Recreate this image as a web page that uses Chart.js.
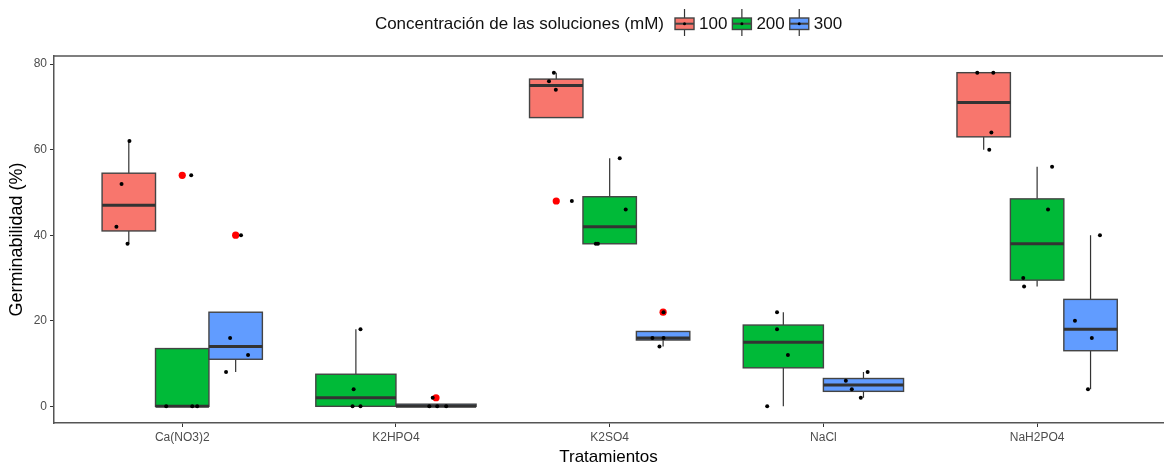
<!DOCTYPE html>
<html>
<head>
<meta charset="utf-8">
<script src="https://cdn.jsdelivr.net/npm/chart.js@4.4.0/dist/chart.umd.min.js"></script>
<style>
  html, body { margin: 0; padding: 0; background: #fff; }
</style>
</head>
<body>
<canvas id="chart" width="1167" height="468"></canvas>
<script>
const treatments = ['Ca(NO3)2', 'K2HPO4', 'K2SO4', 'NaCl', 'NaH2PO4'];
const concentrations = ['100', '200', '300'];
const colors = ['#F8766D', '#00BA38', '#619CFF'];
const yTicks = [0, 20, 40, 60, 80];

// germinabilidad (%) por tratamiento, una lista por concentracion (null = sin datos)
const germ100 = [[38, 42, 52, 62], null, [48, 74, 76, 78], null, [60, 64, 78, 78]];
const germ200 = [[0, 0, 0, 54], [0, 0, 4, 18], [38, 38, 46, 58], [0, 12, 18, 22], [28, 30, 46, 56]];
const germ300 = [[8, 12, 16, 40], [0, 0, 0, 2], [14, 16, 16, 22], [2, 4, 6, 8], [4, 16, 20, 40]];

// jitter horizontal de cada punto (en unidades de categoria)
const jitter100 = [[-0.256, -0.308, -0.284, -0.247], null, [-0.177, -0.252, -0.284, -0.261], null, [-0.224, -0.214, -0.280, -0.205]];
const jitter200 = [[-0.075, 0.047, 0.070, 0.042], [-0.203, -0.166, -0.198, -0.166], [-0.065, -0.055, 0.075, 0.047], [-0.263, -0.166, -0.217, -0.217], [-0.061, -0.065, 0.051, 0.070]];
const jitter300 = [[0.205, 0.308, 0.224, 0.275], [0.156, 0.193, 0.235, 0.172], [0.233, 0.200, 0.252, 0.252], [0.175, 0.133, 0.105, 0.207], [0.238, 0.256, 0.177, 0.294]];

const series = [germ100, germ200, germ300];
const jitters = [jitter100, jitter200, jitter300];

Chart.defaults.font.family = "'Liberation Sans', Arial, sans-serif";

function quantile(s, p) {
  const h = (s.length - 1) * p;
  const lo = Math.floor(h);
  const hi = Math.min(lo + 1, s.length - 1);
  return s[lo] + (h - lo) * (s[hi] - s[lo]);
}

function boxStats(v) {
  const s = [...v].sort((a, b) => a - b);
  const q1 = quantile(s, 0.25), med = quantile(s, 0.5), q3 = quantile(s, 0.75);
  const iqr = q3 - q1;
  const lo = q1 - 1.5 * iqr, hi = q3 + 1.5 * iqr;
  const inside = s.filter(x => x >= lo && x <= hi);
  return {
    q1, med, q3,
    wlo: Math.min(...inside),
    whi: Math.max(...inside),
    out: s.filter(x => x < lo || x > hi)
  };
}

// dodge like ggplot: the boxes present in a group share 0.75 of the slot
let boxes = [];
let jitterPts = [];
let outlierPts = [];

treatments.forEach((t, i) => {
  const present = [0, 1, 2].filter(k => series[k][i]);
  const w = 0.75 / present.length;
  present.forEach((k, j) => {
    const center = (i + 1) - 0.375 + w * (j + 0.5);
    const st = boxStats(series[k][i]);
    boxes.push(Object.assign({ center: center, width: w, color: colors[k] }, st));
    st.out.forEach(o => outlierPts.push({ x: center, y: o }));
    series[k][i].forEach((v, n) => jitterPts.push({ x: (i + 1) + jitters[k][i][n], y: v }));
  });
});

const boxPlugin = {
  id: 'boxes',
  beforeDatasetsDraw(chart) {
    const { ctx, scales: { x, y } } = chart;
    ctx.save();
    boxes.forEach(b => {
      const xl = x.getPixelForValue(b.center - b.width / 2);
      const xr = x.getPixelForValue(b.center + b.width / 2);
      const xc = x.getPixelForValue(b.center);
      const yt = y.getPixelForValue(b.q3);
      const yb = y.getPixelForValue(b.q1);
      const ym = y.getPixelForValue(b.med);

      ctx.strokeStyle = '#333333';
      ctx.lineWidth = 1.2;
      ctx.beginPath();
      ctx.moveTo(xc, y.getPixelForValue(b.whi));
      ctx.lineTo(xc, yt);
      ctx.moveTo(xc, yb);
      ctx.lineTo(xc, y.getPixelForValue(b.wlo));
      ctx.stroke();

      ctx.fillStyle = b.color;
      ctx.fillRect(xl, yt, xr - xl, yb - yt);
      ctx.strokeStyle = '#444444';
      ctx.lineWidth = 1.4;
      ctx.strokeRect(xl, yt, xr - xl, yb - yt);

      ctx.strokeStyle = '#333333';
      ctx.lineWidth = 3;
      ctx.beginPath();
      ctx.moveTo(xl, ym);
      ctx.lineTo(xr, ym);
      ctx.stroke();
    });
    ctx.restore();
  },
  afterDraw(chart) {
    const { ctx, chartArea } = chart;
    ctx.save();
    // top of the panel border
    ctx.strokeStyle = '#555555';
    ctx.lineWidth = 1.5;
    ctx.beginPath();
    ctx.moveTo(chartArea.left, chartArea.top);
    ctx.lineTo(chartArea.right, chartArea.top);
    ctx.stroke();

    // legend on top, ggplot style
    const title = 'Concentración de las soluciones (mM)';
    ctx.font = "17px 'Liberation Sans', Arial, sans-serif";
    ctx.textBaseline = 'middle';
    ctx.fillStyle = '#111111';
    const keyW = 19, gapTitle = 11, gapLabel = 5, gapItem = 5;
    const titleW = ctx.measureText(title).width;
    let total = titleW + gapTitle;
    concentrations.forEach((c, k) => {
      total += keyW + gapLabel + ctx.measureText(c).width + (k < concentrations.length - 1 ? gapItem : 0);
    });
    let cx = (chartArea.left + chartArea.right) / 2 - total / 2;
    const cy = 24;
    ctx.fillText(title, cx, cy);
    cx += titleW + gapTitle;
    concentrations.forEach((c, k) => {
      const mid = cx + keyW / 2;
      ctx.strokeStyle = '#333333';
      ctx.lineWidth = 1.2;
      ctx.beginPath();
      ctx.moveTo(mid, 9);
      ctx.lineTo(mid, 36);
      ctx.stroke();
      ctx.fillStyle = colors[k];
      ctx.fillRect(cx, 18, keyW, 11.5);
      ctx.lineWidth = 1.4;
      ctx.strokeStyle = '#444444';
      ctx.strokeRect(cx, 18, keyW, 11.5);
      ctx.lineWidth = 2;
      ctx.beginPath();
      ctx.moveTo(cx, 23.7);
      ctx.lineTo(cx + keyW, 23.7);
      ctx.stroke();
      ctx.fillStyle = '#000';
      ctx.beginPath();
      ctx.arc(mid, 23.7, 1.5, 0, Math.PI * 2);
      ctx.fill();
      cx += keyW + gapLabel;
      ctx.fillStyle = '#111111';
      ctx.fillText(c, cx, cy);
      cx += ctx.measureText(c).width + gapItem;
    });
    ctx.restore();
  }
};

const ctx = document.getElementById('chart').getContext('2d');

const chart = new Chart(ctx, {
  type: 'scatter',
  data: {
    datasets: [
      {
        label: 'puntos',
        data: jitterPts,
        backgroundColor: '#000000',
        borderColor: '#000000',
        pointRadius: 2,
        borderWidth: 0
      },
      {
        label: 'atipicos',
        data: outlierPts,
        backgroundColor: '#FF0000',
        borderColor: '#FF0000',
        pointRadius: 3.6,
        borderWidth: 0
      }
    ]
  },
  options: {
    responsive: false,
    animation: false,
    layout: { padding: { top: 56, left: 0, right: 0, bottom: 0 } },
    plugins: {
      legend: { display: false },
      tooltip: { enabled: false }
    },
    scales: {
      x: {
        type: 'linear',
        min: 0.4,
        max: 5.589,
        afterBuildTicks: s => { s.ticks = treatments.map((t, i) => ({ value: i + 1 })); },
        afterFit: s => { s.height = 45; },
        ticks: {
          callback: (v, i) => treatments[i],
          color: '#4d4d4d',
          font: { size: 12 },
          padding: 3,
          maxRotation: 0
        },
        grid: { drawOnChartArea: false, drawTicks: true, tickLength: 4, color: '#333333' },
        border: { display: true, color: '#555555', width: 1.5 },
        title: {
          display: true,
          text: 'Tratamientos',
          color: '#000000',
          font: { size: 17 },
          padding: { top: 0, bottom: 0 }
        }
      },
      y: {
        min: -3.9,
        max: 81.9,
        afterBuildTicks: s => { s.ticks = yTicks.map(v => ({ value: v })); },
        afterFit: s => { s.width = 54; },
        ticks: {
          color: '#4d4d4d',
          font: { size: 12 },
          padding: 3
        },
        grid: { drawOnChartArea: false, drawTicks: true, tickLength: 4, color: '#333333' },
        border: { display: true, color: '#555555', width: 1.5 },
        title: {
          display: true,
          text: 'Germinabilidad (%)',
          color: '#000000',
          font: { size: 18 },
          padding: { top: 6, bottom: 0 }
        }
      }
    }
  },
  plugins: [boxPlugin]
});
</script>
</body>
</html>
